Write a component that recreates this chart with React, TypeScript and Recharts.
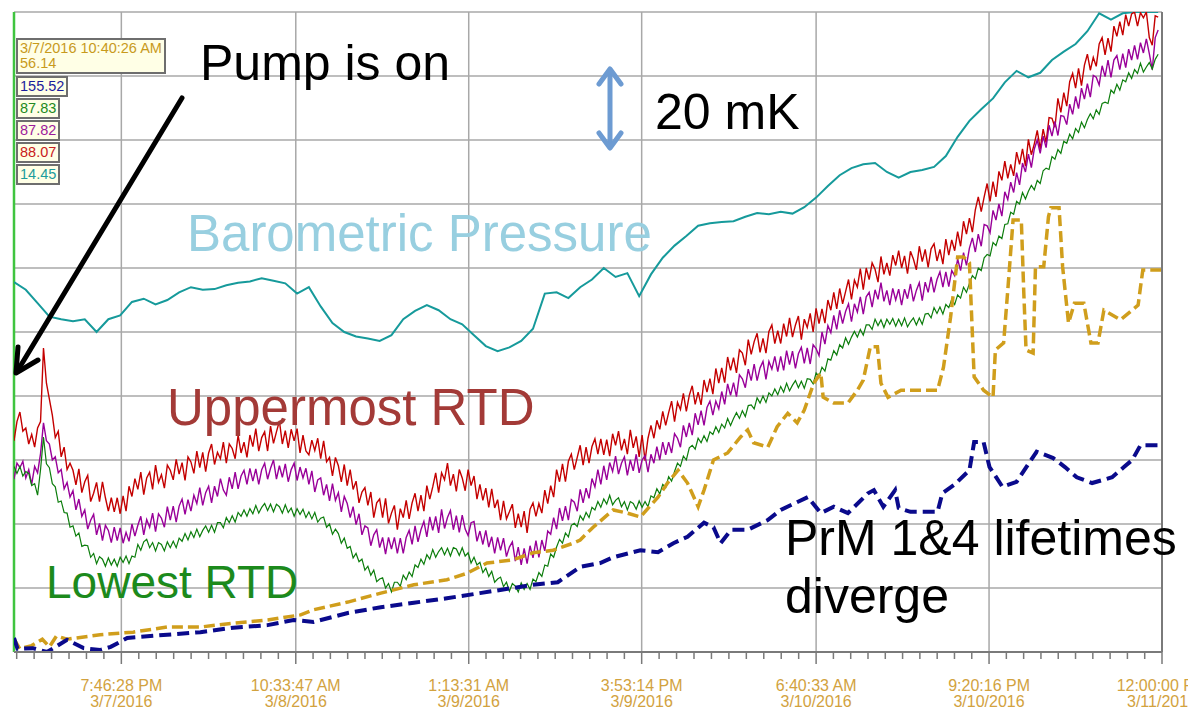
import { LineChart, Line, XAxis, YAxis, ReferenceLine } from 'recharts';

// x is hours since the cursor time 3/7/2016 10:40:26 AM, y is grid units (0..10)
const majorTicks = [9.1006, 23.889, 38.551, 53.213, 68.002, 82.664, 97.326];
const tickTimes = ['7:46:28 PM', '10:33:47 AM', '1:13:31 AM', '3:53:14 PM', '6:40:33 AM', '9:20:16 PM', '12:00:00 PM'];
const tickDates = ['3/7/2016', '3/8/2016', '3/9/2016', '3/9/2016', '3/10/2016', '3/10/2016', '3/11/2016'];

// RTD readings, one every quarter hour
const rtdStep = 0.25;
const upperRtd = [
  3.3, 3.6, 3.75, 3.45, 3.5, 3.25, 3.4, 3.2, 3.5, 3.6, 4.75, 4.2, 3.95, 3.7, 3.35, 3.45, 3.05, 3.2, 2.85, 2.95,
  2.84, 2.61, 2.86, 2.49, 2.66, 2.76, 2.35, 2.48, 2.65, 2.35, 2.66, 2.41, 2.2, 2.41, 2.19, 2.41, 2.16, 2.44, 2.2, 2.59,
  2.43, 2.71, 2.54, 2.81, 2.46, 2.72, 2.81, 2.54, 2.92, 2.65, 2.77, 2.56, 2.92, 2.84, 2.69, 3.01, 2.78, 2.96, 2.68, 3.05,
  2.97, 2.79, 3.14, 2.88, 3.12, 2.82, 3.11, 3.25, 2.93, 3.12, 3.02, 3.28, 2.95, 3.25, 3.18, 3.02, 3.39, 3.11, 3.28, 3.04,
  3.39, 3.21, 3.49, 3.14, 3.35, 3.44, 3.14, 3.53, 3.26, 3.44, 3.61, 3.25, 3.46, 3.19, 3.48, 3.3, 3.49, 3.11, 3.39, 3.14,
  3.08, 3.31, 3.15, 3.34, 3.02, 3.3, 2.97, 3.04, 2.75, 3.04, 2.91, 2.66, 2.93, 2.6, 2.85, 2.54, 2.67, 2.33, 2.5, 2.57,
  2.29, 2.5, 2.1, 2.33, 2.39, 2.1, 2.4, 2.01, 2.17, 2.29, 1.91, 2.24, 2.1, 2.37, 2.08, 2.33, 2.48, 2.2, 2.45, 2.2,
  2.6, 2.39, 2.58, 2.8, 2.49, 2.8, 2.69, 2.95, 2.6, 2.78, 2.51, 2.85, 2.72, 2.52, 2.85, 2.6, 2.75, 2.39, 2.62, 2.37,
  2.56, 2.26, 2.55, 2.25, 2.38, 2.06, 2.36, 2.08, 2.19, 2.31, 1.94, 2.16, 1.95, 2.2, 1.86, 2.23, 2.33, 2.12, 2.32, 2.17,
  2.53, 2.32, 2.6, 2.42, 2.85, 2.66, 2.94, 2.66, 2.98, 3.09, 2.85, 3.04, 3.23, 2.92, 3.2, 2.95, 3.21, 3.33, 3.09, 3.33,
  3.08, 3.32, 3.06, 3.41, 3.23, 3.45, 3.15, 3.33, 3.09, 3.47, 3.19, 3.37, 3.05, 3.39, 2.99, 3.34, 3.54, 3.34, 3.62, 3.48,
  3.76, 3.54, 3.74, 3.92, 3.6, 3.9, 3.79, 4.04, 3.76, 4.01, 4.16, 3.87, 4.06, 3.86, 4.25, 4.06, 4.27, 4.03, 4.43, 4.2,
  4.44, 4.21, 4.61, 4.4, 4.6, 4.36, 4.72, 4.67, 4.48, 4.88, 4.65, 4.85, 4.98, 4.68, 4.9, 4.67, 5.01, 5.11, 4.82, 5.02,
  4.82, 5.13, 4.93, 5.22, 4.92, 5.11, 5.25, 4.88, 5.2, 5.07, 5.29, 5.0, 5.37, 5.13, 5.36, 5.14, 5.5, 5.34, 5.62, 5.36,
  5.68, 5.44, 5.63, 5.82, 5.51, 5.81, 5.7, 5.99, 5.66, 6.0, 5.82, 6.08, 5.98, 5.78, 6.18, 5.9, 6.08, 5.88, 6.2, 6.04,
  6.27, 6.0, 6.19, 5.91, 6.26, 6.14, 5.97, 6.34, 6.1, 6.29, 6.01, 6.3, 6.38, 6.11, 6.29, 6.06, 6.45, 6.2, 6.44, 6.27,
  6.57, 6.34, 6.73, 6.53, 6.78, 6.56, 6.91, 7.11, 6.88, 7.11, 7.32, 7.04, 7.35, 7.11, 7.51, 7.37, 7.67, 7.4, 7.62, 7.44,
  7.81, 7.62, 7.86, 7.59, 8.01, 7.77, 7.94, 8.15, 7.86, 8.17, 7.96, 8.35, 8.34, 8.2, 8.65, 8.43, 8.74, 8.53, 8.91, 9.04,
  8.81, 9.12, 8.85, 9.17, 9.34, 9.09, 9.29, 9.15, 9.5, 9.6, 9.33, 9.59, 9.38, 9.78, 9.62, 9.85, 9.64, 9.96, 9.78, 9.97,
  10.0, 9.78, 9.99, 9.91, 10.0, 9.6, 9.48, 9.94, 9.92,
];
const middleRtd = [
  2.7, 2.95, 2.88, 2.98, 2.72, 2.85, 2.62, 2.9, 2.8, 3.1, 3.58, 3.3, 3.25, 3.0, 3.05, 2.8, 2.85, 2.55, 2.65, 2.42,
  2.52, 2.22, 2.39, 2.12, 2.22, 1.92, 2.06, 2.15, 1.83, 2.01, 1.74, 1.98, 1.9, 1.71, 1.95, 1.74, 1.94, 1.7, 1.87, 1.73,
  2.0, 1.81, 1.98, 2.12, 1.83, 2.07, 1.95, 2.17, 1.88, 2.16, 2.09, 1.95, 2.27, 2.06, 2.28, 2.03, 2.28, 2.39, 2.15, 2.38,
  2.2, 2.45, 2.32, 2.57, 2.29, 2.49, 2.59, 2.33, 2.59, 2.43, 2.71, 2.53, 2.45, 2.73, 2.55, 2.81, 2.55, 2.75, 2.84, 2.62,
  2.87, 2.67, 2.86, 2.62, 2.85, 2.95, 2.7, 2.87, 3.0, 2.7, 2.91, 2.73, 2.94, 2.66, 2.85, 2.95, 2.68, 2.89, 2.72, 2.87,
  2.62, 2.83, 2.5, 2.69, 2.72, 2.45, 2.62, 2.36, 2.63, 2.37, 2.49, 2.19, 2.43, 2.32, 2.1, 2.27, 1.99, 2.16, 1.83, 1.97,
  1.94, 1.66, 1.83, 1.91, 1.63, 1.79, 1.53, 1.79, 1.61, 1.79, 1.54, 1.78, 1.54, 1.79, 1.9, 1.68, 1.97, 1.72, 1.91, 2.04,
  1.8, 2.11, 1.9, 2.12, 1.86, 2.23, 1.93, 2.1, 2.21, 1.91, 2.13, 1.87, 2.14, 1.92, 1.82, 2.02, 2.04, 1.73, 1.89, 1.68,
  1.9, 1.64, 1.8, 1.54, 1.79, 1.59, 1.78, 1.49, 1.64, 1.72, 1.42, 1.64, 1.36, 1.62, 1.38, 1.66, 1.47, 1.74, 1.48, 1.75,
  1.58, 1.89, 1.84, 2.1, 1.92, 2.25, 2.05, 2.28, 2.06, 2.38, 2.34, 2.2, 2.54, 2.33, 2.56, 2.4, 2.71, 2.58, 2.85, 2.62,
  2.91, 2.69, 2.96, 2.82, 3.06, 2.78, 2.95, 3.05, 2.76, 3.0, 2.83, 3.09, 2.8, 3.0, 3.07, 2.81, 3.09, 2.95, 3.21, 3.0,
  3.28, 3.08, 3.28, 3.11, 3.41, 3.34, 3.2, 3.54, 3.36, 3.58, 3.39, 3.73, 3.55, 3.77, 3.54, 3.82, 3.92, 3.7, 3.92, 3.8,
  4.07, 3.87, 4.19, 4.01, 4.21, 3.99, 4.33, 4.27, 4.13, 4.42, 4.24, 4.5, 4.24, 4.44, 4.54, 4.26, 4.54, 4.42, 4.62, 4.38,
  4.62, 4.4, 4.71, 4.49, 4.7, 4.43, 4.66, 4.76, 4.51, 4.75, 4.5, 4.8, 4.74, 4.63, 5.0, 4.81, 5.1, 4.99, 5.26, 5.04,
  5.34, 5.13, 5.32, 5.44, 5.16, 5.44, 5.31, 5.55, 5.28, 5.55, 5.62, 5.39, 5.66, 5.51, 5.77, 5.48, 5.65, 5.42, 5.68, 5.5,
  5.67, 5.42, 5.67, 5.52, 5.75, 5.48, 5.65, 5.77, 5.49, 5.78, 5.62, 5.86, 5.62, 5.82, 5.94, 5.7, 5.94, 5.71, 5.96, 5.88,
  6.14, 5.96, 6.24, 6.04, 6.31, 6.47, 6.25, 6.53, 6.34, 6.68, 6.66, 6.55, 6.9, 6.75, 7.0, 6.81, 7.19, 7.07, 7.34, 7.18,
  7.49, 7.3, 7.64, 7.5, 7.78, 7.57, 7.86, 8.0, 7.79, 8.06, 7.88, 8.23, 8.06, 8.29, 8.07, 8.38, 8.37, 8.24, 8.56, 8.4,
  8.68, 8.49, 8.81, 8.64, 8.88, 8.67, 9.01, 8.98, 8.86, 9.16, 8.99, 9.25, 8.98, 9.25, 9.32, 9.1, 9.35, 9.13, 9.42, 9.25,
  9.48, 9.26, 9.52, 9.36, 9.58, 9.35, 9.1, 9.6, 9.72,
];
const lowerRtd = [
  2.9, 2.79, 2.9, 2.75, 2.82, 2.79, 2.6, 2.63, 2.45, 2.85, 3.36, 2.94, 2.88, 2.63, 2.58, 2.34, 2.36, 2.18, 2.17, 1.95,
  1.97, 1.81, 1.86, 1.65, 1.67, 1.66, 1.48, 1.54, 1.38, 1.49, 1.45, 1.34, 1.47, 1.36, 1.45, 1.34, 1.48, 1.4, 1.5, 1.38,
  1.5, 1.48, 1.68, 1.59, 1.72, 1.76, 1.63, 1.71, 1.58, 1.71, 1.68, 1.58, 1.72, 1.63, 1.73, 1.63, 1.78, 1.73, 1.85, 1.75,
  1.88, 1.79, 1.92, 1.8, 1.9, 1.97, 1.87, 1.98, 1.87, 2.02, 2.02, 1.94, 2.1, 2.02, 2.13, 2.03, 2.18, 2.12, 2.22, 2.12,
  2.24, 2.16, 2.29, 2.17, 2.26, 2.32, 2.21, 2.31, 2.19, 2.31, 2.27, 2.17, 2.3, 2.18, 2.25, 2.12, 2.24, 2.15, 2.23, 2.1,
  2.19, 2.08, 2.18, 2.03, 2.09, 2.11, 1.95, 2.0, 1.84, 1.92, 1.85, 1.7, 1.78, 1.62, 1.65, 1.47, 1.54, 1.41, 1.45, 1.28,
  1.34, 1.2, 1.28, 1.1, 1.14, 1.16, 1.0, 1.07, 0.94, 1.09, 1.09, 1.03, 1.2, 1.13, 1.25, 1.18, 1.36, 1.32, 1.45, 1.37,
  1.52, 1.45, 1.6, 1.48, 1.57, 1.63, 1.52, 1.62, 1.5, 1.63, 1.61, 1.51, 1.63, 1.5, 1.55, 1.39, 1.48, 1.36, 1.4, 1.24,
  1.31, 1.18, 1.26, 1.09, 1.14, 1.17, 1.02, 1.09, 0.95, 1.07, 1.03, 0.94, 1.08, 0.98, 1.07, 0.98, 1.14, 1.1, 1.24, 1.18,
  1.36, 1.34, 1.53, 1.48, 1.64, 1.76, 1.7, 1.86, 1.8, 1.98, 2.01, 1.96, 2.13, 2.06, 2.18, 2.1, 2.26, 2.22, 2.35, 2.26,
  2.39, 2.31, 2.45, 2.3, 2.37, 2.41, 2.27, 2.35, 2.22, 2.35, 2.32, 2.23, 2.36, 2.26, 2.35, 2.27, 2.44, 2.41, 2.55, 2.47,
  2.62, 2.57, 2.74, 2.67, 2.82, 2.95, 2.9, 3.06, 3.0, 3.19, 3.23, 3.17, 3.34, 3.27, 3.38, 3.29, 3.44, 3.4, 3.52, 3.43,
  3.56, 3.5, 3.65, 3.54, 3.65, 3.74, 3.65, 3.77, 3.68, 3.85, 3.86, 3.8, 3.97, 3.89, 4.0, 3.9, 4.05, 4.0, 4.11, 4.02,
  4.15, 4.06, 4.2, 4.08, 4.17, 4.24, 4.13, 4.23, 4.12, 4.27, 4.26, 4.19, 4.36, 4.31, 4.45, 4.39, 4.58, 4.56, 4.71, 4.64,
  4.8, 4.75, 4.91, 4.81, 4.92, 5.01, 4.92, 5.04, 4.95, 5.11, 5.11, 5.04, 5.2, 5.1, 5.19, 5.07, 5.2, 5.12, 5.21, 5.09,
  5.2, 5.1, 5.22, 5.08, 5.16, 5.22, 5.11, 5.22, 5.12, 5.28, 5.29, 5.22, 5.38, 5.29, 5.39, 5.28, 5.43, 5.38, 5.51, 5.43,
  5.58, 5.53, 5.7, 5.62, 5.76, 5.88, 5.83, 6.0, 5.96, 6.16, 6.21, 6.19, 6.4, 6.35, 6.5, 6.46, 6.68, 6.69, 6.87, 6.84,
  7.04, 7.0, 7.18, 7.08, 7.2, 7.29, 7.22, 7.37, 7.32, 7.52, 7.56, 7.54, 7.74, 7.7, 7.85, 7.79, 7.98, 7.95, 8.09, 8.02,
  8.18, 8.12, 8.28, 8.19, 8.32, 8.41, 8.33, 8.47, 8.4, 8.57, 8.59, 8.57, 8.78, 8.73, 8.87, 8.78, 8.94, 8.91, 9.05, 8.96,
  9.1, 9.04, 9.2, 9.06, 9.14, 9.21, 9.11, 9.26, 9.34,
];

// barometric pressure, one reading per hour
const baroStep = 1;
const baro = [
  5.78, 5.66, 5.45, 5.24, 5.2, 5.17, 5.2, 5.0, 5.2, 5.26, 5.47, 5.52, 5.43, 5.5, 5.62, 5.7, 5.66, 5.67, 5.73, 5.77,
  5.79, 5.84, 5.8, 5.76, 5.6, 5.7, 5.4, 5.14, 5.0, 4.93, 4.9, 4.86, 4.95, 5.2, 5.33, 5.42, 5.34, 5.2, 5.12, 4.95,
  4.78, 4.7, 4.76, 4.86, 5.05, 5.6, 5.62, 5.53, 5.7, 5.82, 6.0, 5.86, 5.92, 5.56, 5.9, 6.16, 6.35, 6.5, 6.66, 6.7,
  6.72, 6.73, 6.8, 6.86, 6.84, 6.88, 6.85, 6.95, 7.1, 7.28, 7.45, 7.56, 7.62, 7.64, 7.5, 7.41, 7.5, 7.53, 7.58, 7.75,
  8.05, 8.3, 8.48, 8.65, 8.9, 9.08, 8.98, 9.05, 9.25, 9.38, 9.5, 9.7, 9.98, 9.88, 9.98, 10.0, 10.0, 10.0,
];

// [hour, value] for the two stepped dashed traces
const goldPoints: [number, number][] = [
  [0, 0.2], [0.5, 0.05], [1.5, 0.1], [2.4, 0.2], [3.0, 0.08], [3.6, 0.25], [4.5, 0.2], [5.3, 0.22], [7.3, 0.27],
  [10.1, 0.31], [13.0, 0.39], [15.8, 0.39], [18.6, 0.45], [21.5, 0.5], [24.3, 0.58], [25.4, 0.66], [28.3, 0.78],
  [31.1, 0.92], [33.9, 1.05], [36.7, 1.13], [38.4, 1.23], [40.1, 1.39], [42.3, 1.44], [44.0, 1.55], [45.7, 1.59],
  [47.4, 1.7], [48.0, 1.75], [49.1, 1.95], [50.8, 2.22], [52.0, 2.17], [53.1, 2.11], [54.6, 2.42], [55.4, 2.64],
  [56.3, 2.84], [57.1, 2.64], [58.0, 2.27], [58.5, 2.53], [59.3, 3.0], [60.5, 3.11], [61.6, 3.36], [62.2, 3.47],
  [62.7, 3.27], [63.9, 3.2], [64.7, 3.52], [65.6, 3.73], [66.4, 3.58], [67.0, 3.78], [67.8, 4.2], [68.4, 4.36],
  [68.6, 3.98], [69.5, 3.89], [70.7, 3.89], [71.5, 4.09], [72.0, 4.25], [72.6, 4.77], [73.2, 4.77], [73.5, 4.2],
  [74.1, 3.98], [75.2, 4.09], [78.3, 4.09], [78.8, 4.45], [79.4, 5.23], [80.0, 6.17], [80.5, 6.17], [81.0, 6.08],
  [81.4, 4.3], [82.2, 4.09], [83.0, 3.98], [83.2, 4.72], [83.9, 4.83], [84.3, 5.77], [84.7, 6.75], [85.4, 6.75],
  [85.6, 5.66], [85.8, 4.72], [86.4, 4.67], [86.6, 6.02], [87.3, 6.02], [87.7, 6.8], [87.9, 6.94], [88.6, 6.94],
  [88.9, 6.02], [89.4, 5.14], [89.9, 5.45], [90.7, 5.45], [91.3, 4.83], [91.9, 4.83], [92.4, 5.34], [93.8, 5.19],
  [95.3, 5.42], [95.7, 5.97], [97.3, 5.97],
];
const navyPoints: [number, number][] = [
  [0, 0.22], [0.3, 0.05], [1.6, 0.06], [2.8, 0.0], [4.5, 0.19], [5.9, 0.06], [7.3, 0.03], [8.2, 0.08], [9.6, 0.22],
  [13.0, 0.27], [15.8, 0.31], [18.6, 0.38], [21.5, 0.42], [23.7, 0.5], [25.4, 0.47], [28.3, 0.61], [31.1, 0.7],
  [33.9, 0.77], [36.7, 0.84], [39.5, 0.92], [42.3, 1.0], [44.0, 1.05], [46.1, 1.09], [48.0, 1.33], [49.7, 1.39],
  [50.8, 1.48], [53.1, 1.59], [54.6, 1.56], [55.9, 1.7], [57.1, 1.8], [58.5, 2.02], [59.3, 1.95], [59.9, 1.7],
  [60.8, 1.91], [62.2, 1.91], [63.9, 2.06], [65.0, 2.22], [67.3, 2.42], [68.4, 2.17], [69.5, 2.27], [70.7, 2.17],
  [72.4, 2.48], [72.9, 2.53], [73.7, 2.27], [74.7, 2.53], [75.0, 2.25], [76.0, 2.19], [78.3, 2.19], [78.7, 2.48],
  [79.7, 2.61], [81.0, 2.84], [81.4, 3.28], [82.2, 3.28], [82.7, 2.89], [83.8, 2.58], [85.0, 2.66], [86.7, 3.13],
  [88.1, 3.03], [89.1, 2.89], [90.1, 2.73], [91.4, 2.64], [93.1, 2.73], [94.1, 2.89], [94.8, 3.0], [95.5, 3.23],
  [97.4, 3.23],
];

const rtdRows = upperRtd.map((v, i) => ({ t: i * rtdStep, upper: v, middle: middleRtd[i], lower: lowerRtd[i] }));
const baroRows = baro.map((v, i) => ({ t: i * baroStep, baro: v }));
const goldRows = goldPoints.map(([t, v]) => ({ t, gold: v }));
const navyRows = navyPoints.map(([t, v]) => ({ t, navy: v }));

// minor ticks: ten per major interval
const xTicks: number[] = [];
const firstGap = (majorTicks[1] - majorTicks[0]) / 10;
for (let k = 1; majorTicks[0] - k * firstGap >= 0; k++) xTicks.push(majorTicks[0] - k * firstGap);
majorTicks.forEach((m, i) => {
  xTicks.push(m);
  if (i < majorTicks.length - 1) {
    const d = (majorTicks[i + 1] - m) / 10;
    for (let k = 1; k < 10; k++) xTicks.push(m + k * d);
  }
});
xTicks.sort((a, b) => a - b);
const yTicks = Array.from({ length: 51 }, (_, i) => i / 5);
const gridY = [1, 2, 3, 4, 5, 6, 7, 8, 9, 10];

const FONT = "'Liberation Sans', Arial, sans-serif";
const GRID = '#a8a8a8';
const AXIS = '#7a7a7a';

function TimeTick(props: any) {
  const { x, y, payload } = props;
  const i = majorTicks.indexOf(payload.value);
  const major = i >= 0;
  return (
    <g>
      <line x1={x} x2={x} y1={y} y2={y + (major ? 12 : 7)} stroke={AXIS} strokeWidth={1.5} />
      {major && (
        <text x={x} y={y + 39} textAnchor="middle" fontSize={16} fill="#d2a23e" fontFamily={FONT}>
          {tickTimes[i]}
        </text>
      )}
      {major && (
        <text x={x} y={y + 55} textAnchor="middle" fontSize={16} fill="#d2a23e" fontFamily={FONT}>
          {tickDates[i]}
        </text>
      )}
    </g>
  );
}

function SideTick(props: any) {
  const { x, y, payload } = props;
  const major = Math.abs(payload.value - Math.round(payload.value)) < 1e-6;
  return <line x1={x} x2={x + (major ? 13 : 8)} y1={y} y2={y} stroke={AXIS} strokeWidth={1.5} />;
}

const readouts = [
  { text: '155.52', color: '#1c1c9c', top: 76 },
  { text: '87.83', color: '#238a23', top: 98 },
  { text: '87.82', color: '#9c1c9c', top: 120 },
  { text: '88.07', color: '#c82020', top: 142 },
  { text: '14.45', color: '#1c9c9c', top: 164 },
];

const boxStyle = {
  position: 'absolute' as const,
  left: 16,
  border: '2px solid #6e6e6e',
  background: '#ffffe6',
  fontFamily: FONT,
  fontSize: 14.5,
  lineHeight: '15px',
  padding: '1px 2px',
  whiteSpace: 'nowrap' as const,
};

export default function App() {
  return (
    <div style={{ position: 'absolute', left: 0, top: 0, width: 1188, height: 711, background: '#fff', overflow: 'hidden' }}>
      <LineChart width={1188} height={711} margin={{ top: 12, right: 0, bottom: 0, left: 14 }}>
        <XAxis
          dataKey="t"
          type="number"
          domain={[0, 97.326]}
          allowDataOverflow
          ticks={xTicks}
          interval={0}
          height={59}
          tickSize={0}
          tickMargin={0}
          tickLine={false}
          tick={<TimeTick />}
          axisLine={{ stroke: AXIS, strokeWidth: 2 }}
        />
        <YAxis yAxisId="left" hide domain={[0, 10]} allowDataOverflow type="number" />
        <YAxis
          yAxisId="right"
          orientation="right"
          type="number"
          domain={[0, 10]}
          ticks={yTicks}
          interval={0}
          width={26}
          tickSize={0}
          tickMargin={0}
          tickLine={false}
          tick={<SideTick />}
          axisLine={{ stroke: AXIS, strokeWidth: 2 }}
        />
        {gridY.map((v) => (
          <ReferenceLine key={'h' + v} yAxisId="left" y={v} stroke={GRID} strokeWidth={1.5} />
        ))}
        {majorTicks.slice(0, -1).map((v) => (
          <ReferenceLine key={'v' + v} yAxisId="left" x={v} stroke={GRID} strokeWidth={1.5} />
        ))}
        <ReferenceLine yAxisId="left" x={0} stroke="#3fc43f" strokeWidth={2.5} />
        <Line yAxisId="left" data={baroRows} dataKey="baro" stroke="#169a9b" strokeWidth={2} dot={false} isAnimationActive={false} />
        <Line yAxisId="left" data={rtdRows} dataKey="upper" stroke="#c40000" strokeWidth={1.4} dot={false} isAnimationActive={false} />
        <Line yAxisId="left" data={rtdRows} dataKey="middle" stroke="#990099" strokeWidth={1.4} dot={false} isAnimationActive={false} />
        <Line yAxisId="left" data={rtdRows} dataKey="lower" stroke="#0c7d0c" strokeWidth={1.2} dot={false} isAnimationActive={false} />
        <Line yAxisId="left" data={goldRows} dataKey="gold" stroke="#d09e1c" strokeWidth={3.5} strokeDasharray="11 5" dot={false} isAnimationActive={false} />
        <Line yAxisId="left" data={navyRows} dataKey="navy" stroke="#0a0a8c" strokeWidth={4} strokeDasharray="12 6" dot={false} isAnimationActive={false} />
      </LineChart>

      <div style={{ ...boxStyle, top: 38, color: '#c89a1c' }}>
        <div>3/7/2016 10:40:26 AM</div>
        <div>56.14</div>
      </div>
      {readouts.map((r) => (
        <div key={r.text} style={{ ...boxStyle, top: r.top, color: r.color }}>
          {r.text}
        </div>
      ))}

      <svg width={1188} height={711} style={{ position: 'absolute', left: 0, top: 0, pointerEvents: 'none' }} fontFamily={FONT}>
        <text x={200} y={80} fontSize={50} fill="#000">Pump is on</text>
        <text x={655} y={129} fontSize={50} fill="#000">20 mK</text>
        <text x={187} y={251} fontSize={51} fill="#98cfe0">Barometric Pressure</text>
        <text x={167} y={425} fontSize={51} fill="#a33a37">Uppermost RTD</text>
        <text x={46} y={598} fontSize={46} fill="#1c8a1c">Lowest RTD</text>
        <text x={785} y={555} fontSize={50} fill="#000">PrM 1&amp;4 lifetimes</text>
        <text x={785} y={613} fontSize={50} fill="#000">diverge</text>
        <line x1={182} y1={98} x2={18} y2={370} stroke="#000" strokeWidth={5} strokeLinecap="round" />
        <polyline points="18,347 16,373 38,360" fill="none" stroke="#000" strokeWidth={5} strokeLinecap="round" strokeLinejoin="round" />
        <line x1={610} y1={71} x2={610} y2={146} stroke="#6d9bd2" strokeWidth={5} strokeLinecap="round" />
        <polyline points="599,84 610,69 621,84" fill="none" stroke="#6d9bd2" strokeWidth={5} strokeLinecap="round" strokeLinejoin="round" />
        <polyline points="599,133 610,148 621,133" fill="none" stroke="#6d9bd2" strokeWidth={5} strokeLinecap="round" strokeLinejoin="round" />
      </svg>
    </div>
  );
}
